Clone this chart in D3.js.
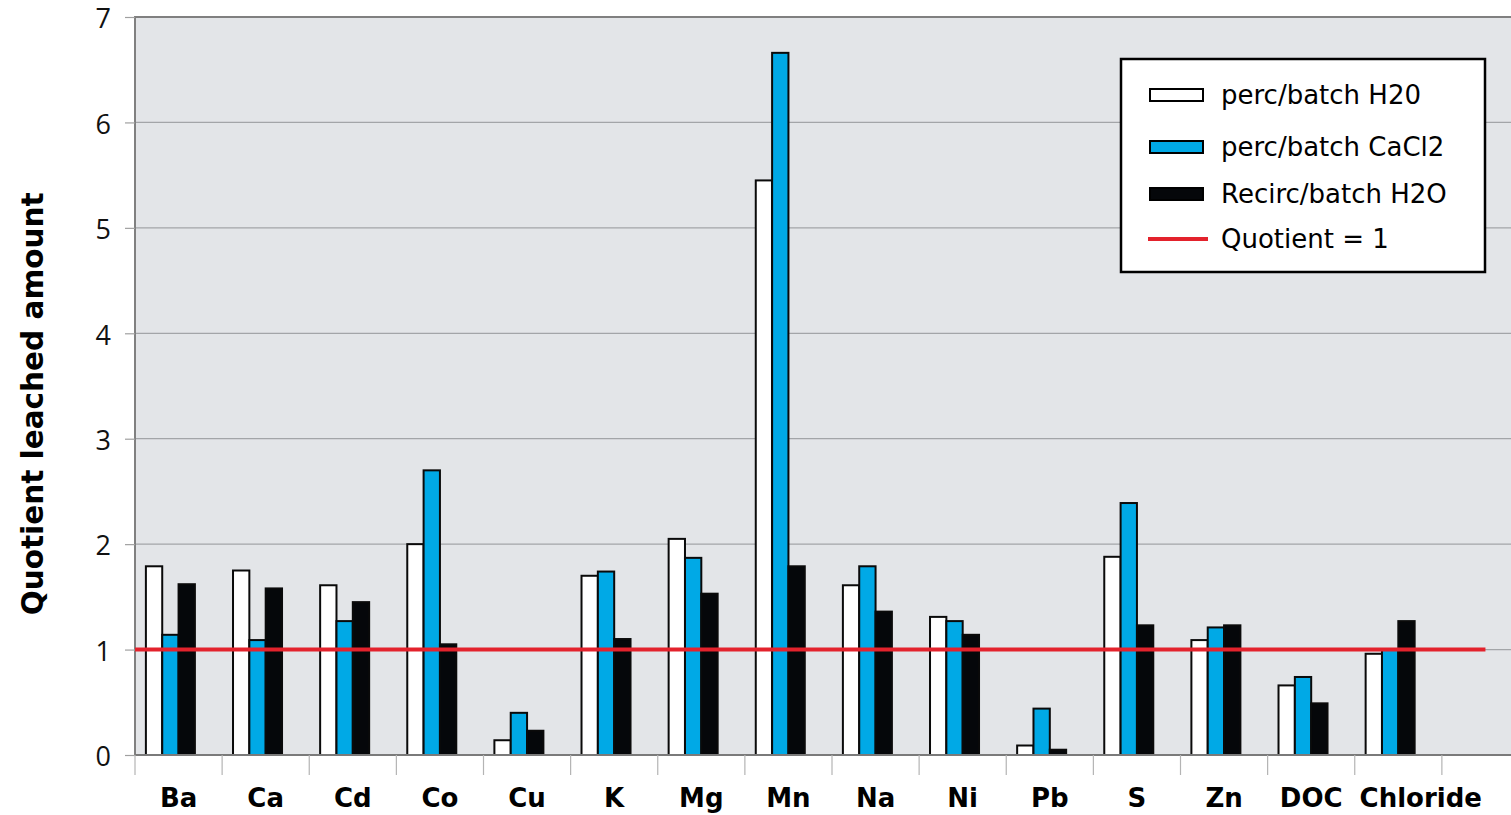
<!DOCTYPE html>
<html>
<head>
<meta charset="utf-8">
<script src="https://cdn.jsdelivr.net/npm/d3@7"></script>
<style>
  body { margin: 0; background: #fff; }
  svg { display: block; }
  .yaxis text { font-family: "Open Sans", sans-serif; font-size: 27px; fill: #111; }
  .xlabel { font-family: "DejaVu Sans", Verdana, sans-serif; font-weight: bold; font-size: 26px; fill: #000; }
  .ytitle { font-family: "DejaVu Sans", Verdana, sans-serif; font-weight: bold; font-size: 29.5px; fill: #000; }
  .legend text { font-family: "DejaVu Sans", Verdana, sans-serif; font-size: 26px; fill: #000; }
</style>
</head>
<body>
<svg id="chart" width="1511" height="815"></svg>
<script>
// categories (the last slot is empty in the original sheet)
var categories = ["Ba", "Ca", "Cd", "Co", "Cu", "K", "Mg", "Mn", "Na", "Ni", "Pb", "S", "Zn", "DOC", "Chloride", ""];

// quotients
var percH2O   = [1.79, 1.75, 1.61, 2.00, 0.14, 1.70, 2.05, 5.45, 1.61, 1.31, 0.09, 1.88, 1.09, 0.66, 0.96, null];
var percCaCl2 = [1.14, 1.09, 1.27, 2.70, 0.40, 1.74, 1.87, 6.66, 1.79, 1.27, 0.44, 2.39, 1.21, 0.74, 1.00, null];
var recircH2O = [1.62, 1.58, 1.45, 1.05, 0.23, 1.10, 1.53, 1.79, 1.36, 1.14, 0.05, 1.23, 1.23, 0.49, 1.27, null];

var quotientLevel = 1;
var yTicks = [0, 1, 2, 3, 4, 5, 6, 7];

var seriesNames = ["perc/batch H20", "perc/batch CaCl2", "Recirc/batch H2O"];
var seriesData  = [percH2O, percCaCl2, recircH2O];
var seriesFill  = ["#ffffff", "#00a9e6", "#05070a"];
var lineName    = "Quotient = 1";
var lineColor   = "#e3222c";

var margin = {top: 17, left: 135},
    width  = 1394,
    height = 738;

var svg = d3.select("#chart");
var g = svg.append("g")
           .attr("transform", "translate(" + margin.left + "," + margin.top + ")");

// scales
var x0 = d3.scaleBand().domain(categories).range([0, width])
           .paddingInner(0.25).paddingOuter(0.125);
// 4 slots per group, excel leaves the last one empty
var x1 = d3.scaleBand().domain([0, 1, 2, 3]).range([0, x0.bandwidth()]);
var y  = d3.scaleLinear().domain([0, 7]).range([height, 0]);

// plot background
g.append("rect")
 .attr("width", width).attr("height", height)
 .attr("fill", "#e3e5e8");

// gridlines
g.selectAll("line.grid")
 .data(yTicks.slice(1, -1))
 .enter().append("line")
 .attr("class", "grid")
 .attr("x1", 0).attr("x2", width)
 .attr("y1", function(d) { return y(d); })
 .attr("y2", function(d) { return y(d); })
 .attr("stroke", "#a3a5a8").attr("stroke-width", 1.2);

// plot frame (top + left)
g.append("path")
 .attr("d", "M0," + height + "V0H" + width)
 .attr("fill", "none").attr("stroke", "#808080").attr("stroke-width", 2);

// y axis
var yAxis = d3.axisLeft(y).tickValues(yTicks).tickFormat(d3.format("d"))
              .tickSize(10).tickPadding(14);
g.append("g").attr("class", "yaxis").call(yAxis)
 .call(function(s) {
   s.select(".domain").remove();
   s.selectAll(".tick line").attr("stroke", "#a0a0a0").attr("stroke-width", 1.2);
   s.selectAll(".tick text").attr("dy", "0.4em");
 });

// bars
seriesData.forEach(function(vals, si) {
  g.selectAll("rect.s" + si)
   .data(vals.map(function(v, i) { return {cat: categories[i], v: v}; })
             .filter(function(d) { return d.v != null; }))
   .enter().append("rect")
   .attr("class", "s" + si)
   .attr("x", function(d) { return x0(d.cat) + x1(si); })
   .attr("width", x1.bandwidth())
   .attr("y", function(d) { return y(d.v); })
   .attr("height", function(d) { return y(0) - y(d.v); })
   .attr("fill", seriesFill[si])
   .attr("stroke", "#0a0a0a").attr("stroke-width", 2);
});

// x axis line and category ticks
g.append("line")
 .attr("x1", 0).attr("x2", width)
 .attr("y1", height).attr("y2", height)
 .attr("stroke", "#7a7a7a").attr("stroke-width", 2);

var bounds = categories.map(function(c) { return x0(c) - x0.step() * x0.paddingOuter(); });
g.selectAll("line.xtick")
 .data(bounds)
 .enter().append("line")
 .attr("class", "xtick")
 .attr("x1", function(d) { return d; }).attr("x2", function(d) { return d; })
 .attr("y1", height).attr("y2", height + 20)
 .attr("stroke", "#b4b4b4").attr("stroke-width", 1.2);

// category labels, nudged right when they would collide (like excel does)
var labels = g.selectAll("text.xlabel")
 .data(categories)
 .enter().append("text")
 .attr("class", "xlabel")
 .attr("text-anchor", "middle")
 .attr("x", function(d) { return x0(d) + x0.bandwidth() / 2; })
 .attr("y", height + 52)
 .text(function(d) { return d; });

var lastRight = -Infinity;
labels.each(function() {
  var bb = this.getBBox();
  if (bb.width === 0) return;
  if (bb.x < lastRight + 17) {
    var shift = lastRight + 17 - bb.x;
    d3.select(this).attr("x", +d3.select(this).attr("x") + shift);
    bb.x += shift;
  }
  lastRight = bb.x + bb.width;
});

// quotient = 1 reference line
var lastCat = categories[categories.length - 1];
g.append("line")
 .attr("x1", 0)
 .attr("x2", x0(lastCat) + x0.bandwidth() / 2)
 .attr("y1", y(quotientLevel)).attr("y2", y(quotientLevel))
 .attr("stroke", lineColor).attr("stroke-width", 4);

// y title
svg.append("text")
   .attr("class", "ytitle")
   .attr("text-anchor", "middle")
   .attr("transform", "translate(43," + (margin.top + y(3.33)) + ")rotate(-90)")
   .text("Quotient leached amount");

// legend
var legend = svg.append("g").attr("class", "legend")
                .attr("transform", "translate(1121,59)");
legend.append("rect")
      .attr("width", 364).attr("height", 213)
      .attr("fill", "#fff").attr("stroke", "#000").attr("stroke-width", 2.5);

var rowY = [36, 88, 135, 180];
seriesNames.forEach(function(name, i) {
  legend.append("rect")
        .attr("x", 29).attr("y", rowY[i] - 6)
        .attr("width", 53).attr("height", 12)
        .attr("fill", seriesFill[i])
        .attr("stroke", "#000").attr("stroke-width", 2);
  legend.append("text")
        .attr("x", 100).attr("y", rowY[i]).attr("dy", "0.36em")
        .text(name);
});
legend.append("line")
      .attr("x1", 27).attr("x2", 87)
      .attr("y1", rowY[3]).attr("y2", rowY[3])
      .attr("stroke", lineColor).attr("stroke-width", 4);
legend.append("text")
      .attr("x", 100).attr("y", rowY[3]).attr("dy", "0.36em")
      .text(lineName);
</script>
</body>
</html>
